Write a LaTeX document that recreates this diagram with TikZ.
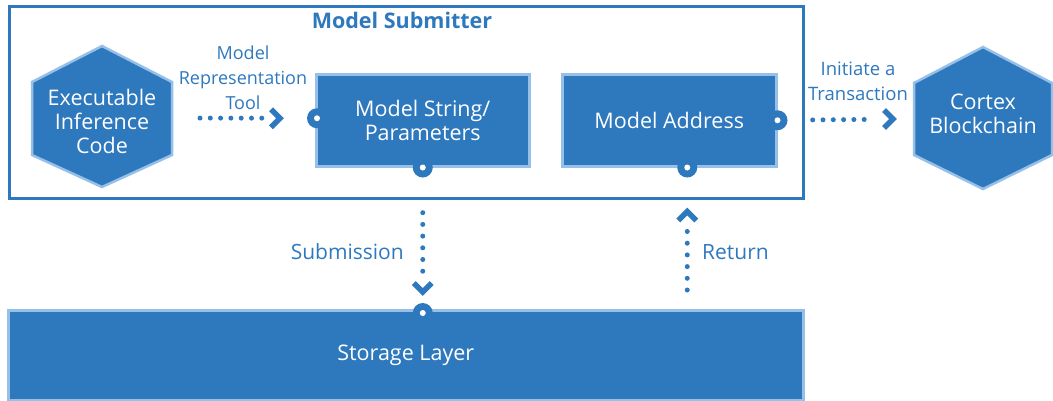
\documentclass[tikz,border=0pt]{standalone}
\usepackage{fontspec}
\setmainfont{Open Sans}
\usetikzlibrary{calc}
\definecolor{mblue}{RGB}{46,120,190}
\definecolor{lblue}{RGB}{150,192,232}
\begin{document}
\begin{tikzpicture}[x=1pt,y=-1pt,
  txt/.style={font=\fontsize{21.5}{24}\selectfont, align=center, inner sep=0pt},
  wtxt/.style={txt, text=white},
  btxt/.style={txt, text=mblue, font=\fontsize{21}{25}\selectfont},
  box/.style={draw=lblue, fill=mblue, line width=2.5pt, inner sep=0pt, font=\fontsize{21.5}{25.5}\selectfont},
  hexa/.style={draw=lblue, fill=mblue, line width=2.5pt, line join=miter},
  port/.style={circle, fill=mblue, minimum size=20pt, inner sep=0pt},
  portdot/.style={circle, fill=white, minimum size=6pt, inner sep=0pt},
  dots/.style={mblue, line width=5pt, line cap=round, dash pattern=on 0pt off 10.3pt},
  vdots/.style={mblue, line width=5pt, line cap=round, dash pattern=on 0pt off 11.7pt},
  chev/.style={mblue, line width=5.5pt, line cap=butt, line join=miter},
]
\useasboundingbox (0,0) rectangle (1053,400);

% outer frame
\node[draw=mblue, line width=3pt, minimum width=794pt, minimum height=192pt, anchor=north west, inner sep=0pt] (frame) at (8,5) {};
\node[txt, text=mblue, font=\fontsize{21.5}{25}\selectfont\bfseries] (title) at (402,20) {Model Submitter};

% hexagons
\draw[hexa] (102,46) -- (172,82) -- (172,155) -- (102,187) -- (32,155) -- (32,82) -- cycle;
\node[wtxt] (exec) at (102,121) {Executable\\Inference\\Code};
\coordinate (execE) at (172,118);

\draw[hexa] (983,47) -- (1052,83) -- (1052,155) -- (983,189) -- (914,155) -- (914,83) -- cycle;
\node[wtxt] (cortex) at (983,114) {Cortex\\Blockchain};
\coordinate (cortexW) at (914,119);

% boxes
\node[box, wtxt, minimum width=213pt, minimum height=92pt, anchor=north west] (ms) at (315,73) {Model String/\\Parameters};
\node[box, wtxt, minimum width=214pt, minimum height=92pt, anchor=north west] (ma) at (561,73) {Model Address};
\node[box, wtxt, minimum width=795pt, minimum height=90pt, anchor=north west] (st) at (7,309) {Storage Layer};

% ports
\node[port] (msL) at ($(ms.west)+(2,-2)$) {};
\node[portdot] at (msL) {};
\node[port] (msB) at (ms.south) {};
\node[portdot] at (msB) {};
\node[port] (maR) at (ma.east) {};
\node[portdot] at (maR) {};
\node[port] (maB) at ($(ma.south)+(18,0)$) {};
\node[portdot] at (maB) {};
\node[port] (stT) at ($(st.north -| msB)+(0,4)$) {};
\node[portdot] at (stT) {};
\coordinate (rt) at (st.north -| maB);

% connectors
\draw[dots, shorten <=28pt, shorten >=43pt] (execE) -- (msL);
\draw[chev] ($(msL)+(-46,-9)$) -- ($(msL)+(-37,0)$) -- ($(msL)+(-46,9)$);

\draw[dots, shorten <=25pt, shorten >=41pt] (maR) -- (cortexW);
\draw[chev] ($(cortexW)+(-30,-9)$) -- ($(cortexW)+(-21,0)$) -- ($(cortexW)+(-30,9)$);

\draw[vdots, shorten <=35pt, shorten >=31pt] (msB) -- (stT);
\draw[chev] ($(stT)+(-9,-30)$) -- ($(stT)+(0,-21)$) -- ($(stT)+(9,-30)$);

\draw[vdots, shorten <=19pt, shorten >=52pt] (rt) -- (maB);
\draw[chev] ($(maB)+(-9,53)$) -- ($(maB)+(0,44)$) -- ($(maB)+(9,53)$);

% labels
\node[btxt, font=\fontsize{18}{25}\selectfont] (lblmrt) at (243,78) {Model\\Representation\\Tool};
\node[btxt, font=\fontsize{18.5}{25}\selectfont] (lblit) at (858,81) {Initiate a\\Transaction};
\node[btxt, anchor=east] (lblsub) at (404,252) {Submission};
\node[btxt, anchor=west] (lblret) at (702,252) {Return};
\end{tikzpicture}
\end{document}
